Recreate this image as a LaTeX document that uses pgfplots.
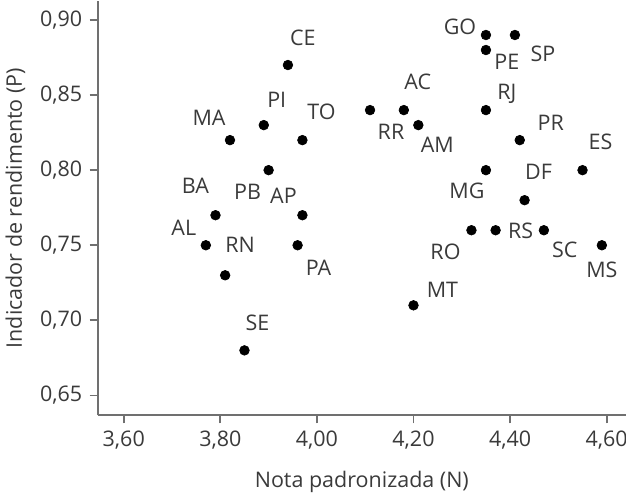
\documentclass[border=0pt]{standalone}
\usepackage{pgfplots}
\pgfplotsset{compat=1.18}
\usepackage{fontspec}
\setmainfont{Open Sans}
\definecolor{txt}{HTML}{3A3A3A}
\definecolor{axl}{HTML}{707070}

% x, y, label, label offset (dx, dy) in pixels of the reference
\pgfplotstableread{
x    y     lab dx  dy
3.94 0.87  CE  15  27
3.89 0.83  PI  13  25
3.82 0.82  MA -21  22
3.97 0.82  TO  19  28
3.90 0.80  PB -21 -22
3.79 0.77  BA -20  29
3.97 0.77  AP -19  19
3.77 0.75  AL -22  17
3.96 0.75  PA  21 -23
3.81 0.73  RN  15  30
3.85 0.68  SE  13  28
4.11 0.84  RR  21 -22
4.18 0.84  AC  14  28
4.21 0.83  AM  19 -20
4.35 0.89  GO -26   8
4.41 0.89  SP  28 -19
4.35 0.88  PE  21 -12
4.35 0.84  RJ  21  16
4.42 0.82  PR  31  17
4.55 0.80  ES  18  28
4.35 0.80  MG -19 -21
4.43 0.78  DF  14  28
4.32 0.76  RO -26 -22
4.37 0.76  RS  25  -1
4.47 0.76  SC  21 -20
4.59 0.75  MS   0 -25
4.20 0.71  MT  29  16
}\ufdata

\begin{document}
\begin{tikzpicture}[trim axis right]
\begin{axis}[
  scale only axis,
  width=317.4pt,
  height=249pt,
  xmin=3.546, xmax=4.64,
  ymin=0.6367, ymax=0.9127,
  axis lines*=left,
  axis line style={axl, line width=1.1pt, -},
  tick style={axl, line width=1.1pt},
  tick align=outside,
  major tick length=4.8pt,
  xtick={3.6,3.8,4.0,4.2,4.4,4.6},
  ytick={0.65,0.70,0.75,0.80,0.85,0.90},
  /pgf/number format/.cd, use comma, fixed, fixed zerofill, precision=2, assume math mode=true,
  /pgfplots/.cd,
  ticklabel style={font=\fontsize{12.9}{14}\selectfont, text=txt},
  xticklabel style={yshift=-1pt},
  yticklabel style={xshift=-1pt},
  label style={font=\fontsize{12.9}{14}\selectfont, text=txt},
  xlabel={Nota padronizada (N)},
  ylabel={Indicador de rendimento (P)},
  xlabel style={yshift=-6.5pt},
  ylabel style={yshift=2pt},
  clip=false,
]
\addplot[
  only marks,
  mark=*,
  mark size=2.9pt,
  mark options={fill=black, draw=black},
  point meta=explicit symbolic,
  visualization depends on={\thisrow{dx} \as \ldx},
  visualization depends on={\thisrow{dy} \as \ldy},
  nodes near coords,
  every node near coord/.style={
    anchor=center,
    font=\fontsize{12.9}{14}\selectfont,
    text=txt,
    xshift={0.6pt*(\ldx)},
    yshift={0.6pt*(\ldy)},
  },
] table[x=x, y=y, meta=lab] {\ufdata};
\end{axis}
\end{tikzpicture}
\end{document}
